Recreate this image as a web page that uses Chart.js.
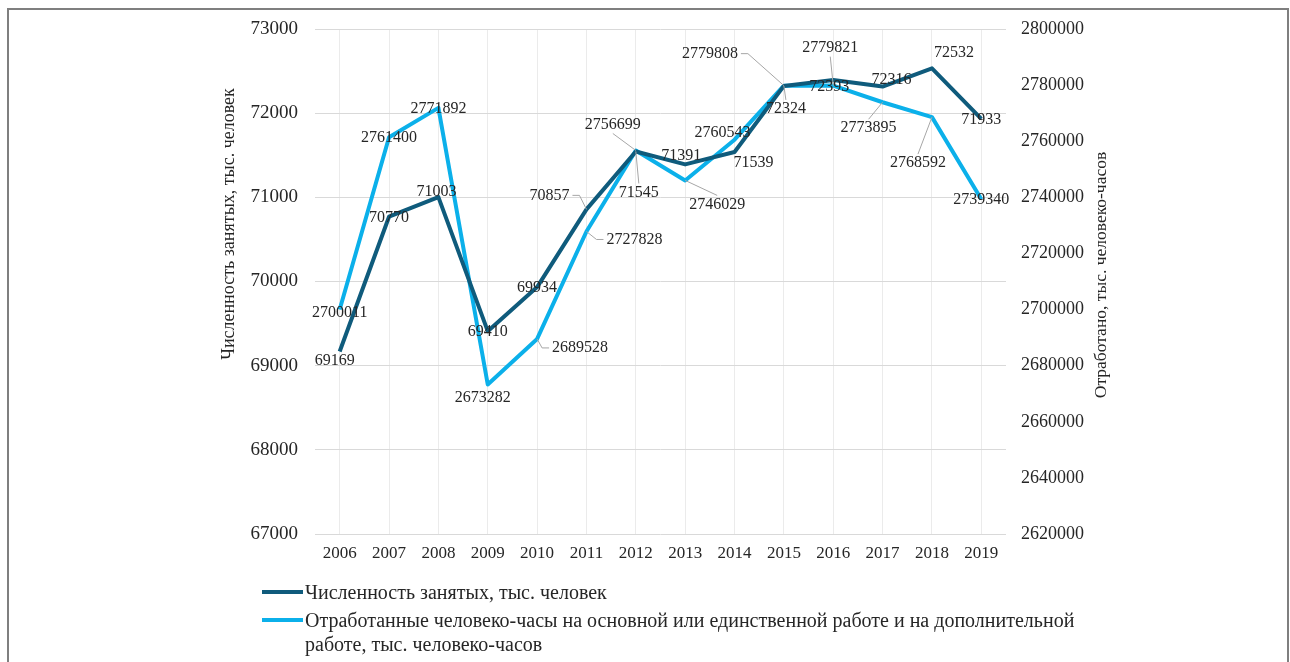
<!DOCTYPE html>
<html lang="ru">
<head>
<meta charset="utf-8">
<title>Численность занятых и отработанные человеко-часы</title>
<script src="https://cdn.jsdelivr.net/npm/chart.js@4"></script>
<style>
  html, body { margin: 0; padding: 0; background: #fff; }
  body { width: 1290px; height: 662px; overflow: hidden; position: relative; font-family: "Liberation Serif", "Times New Roman", serif; }
  .frame { position: absolute; left: 7px; top: 8px; width: 1282px; height: 720px; border: 2px solid #7f7f7f; box-sizing: border-box; }
  .wrap { position: absolute; left: 0; top: 0; width: 1290px; height: 662px; }
  .legend { position: absolute; left: 262px; top: 580px; color: #262626; font-size: 20px; }
  .legend-item { display: flex; align-items: flex-start; margin-bottom: 4px; }
  .legend-item .swatch { width: 41px; height: 4px; margin-top: 10px; flex: none; }
  .legend-item .text { width: 800px; line-height: 24px; padding-left: 2px; }
</style>
</head>
<body>
<div class="frame"></div>
<div class="wrap"><canvas id="myChart"></canvas></div>
<div class="legend" id="legend"></div>

<script>
const years = ["2006", "2007", "2008", "2009", "2010", "2011", "2012",
  "2013", "2014", "2015", "2016", "2017", "2018", "2019"];

// тыс. человек
const employed = [69169, 70770, 71003, 69410, 69934, 70857, 71545,
  71391, 71539, 72324, 72393, 72316, 72532, 71933];

// тыс. человеко-часов
const hoursWorked = [2700011, 2761400, 2771892, 2673282, 2689528, 2727828, 2756699,
  2746029, 2760543, 2779808, 2779821, 2773895, 2768592, 2739340];

const leftAxis = [67000, 73000, 1000];
const rightAxis = [2620000, 2800000, 20000];

const employedName = "Численность занятых, тыс. человек";
const hoursName = "Отработанные человеко-часы на основной или единственной работе и на дополнительной работе, тыс. человеко-часов";
const leftTitle = "Численность занятых, тыс. человек";
const rightTitle = "Отработано, тыс. человеко-часов";

// label offsets from the point: [dx, dy, leader] ("h" = elbow, "v" = straight)
const employedLabelPos = [
  [-5, 9, 0], [0, 1, 0], [-2, -5, 0], [0, 1, 0], [0, 1, 0], [-37, -14, "h"], [3, 41, "v"],
  [-4, -9, 0], [19, 11, 0], [2, 23, "v"], [-4, 7, 0], [9, -7, 0], [22, -16, 0], [0, 1, 0]
];
const hoursLabelPos = [
  [0, 3, 0], [0, 1, 0], [0, 1, 0], [-5, 13, 0], [43, 9, "h"], [48, 8, "h"], [-23, -26, "v"],
  [32, 24, "v"], [-12, -7, 0], [-74, -32, "h"], [-3, -38, "v"], [-14, 26, "v"], [-14, 46, "v"], [0, 1, 0]
];

const FONT = "'Liberation Serif', 'Times New Roman', serif";
const TEXT = "#262626";
const DARK = "#0f5b7c";
const LIGHT = "#0bb0ea";

// value labels with grey leader lines
const valueLabels = {
  id: "valueLabels",
  afterDatasetsDraw(chart) {
    const ctx = chart.ctx;
    const places = [employedLabelPos, hoursLabelPos];
    ctx.save();
    ctx.font = "16px " + FONT;
    ctx.textAlign = "center";
    ctx.textBaseline = "middle";
    chart.data.datasets.forEach((ds, d) => {
      const meta = chart.getDatasetMeta(d);
      meta.data.forEach((pt, i) => {
        const [dx, dy, leader] = places[d][i];
        const text = String(ds.data[i]);
        const cx = pt.x + dx;
        const cy = pt.y + dy;
        const w = ctx.measureText(text).width;
        if (leader) {
          ctx.strokeStyle = "#a6a6a6";
          ctx.lineWidth = 1;
          ctx.beginPath();
          if (leader === "h") {
            const side = pt.x > cx ? 1 : -1;
            const sx = cx + side * (w / 2 + 3);
            ctx.moveTo(sx, cy);
            ctx.lineTo(sx + side * 7, cy);
          } else {
            const side = pt.y > cy ? 1 : -1;
            ctx.moveTo(cx, cy + side * 9);
          }
          ctx.lineTo(pt.x, pt.y);
          ctx.stroke();
        }
        ctx.fillStyle = TEXT;
        ctx.fillText(text, cx, cy);
      });
    });
    ctx.restore();
  }
};

// both axis titles read bottom-to-top
const axisTitles = {
  id: "axisTitles",
  afterDraw(chart) {
    const ctx = chart.ctx;
    const y = chart.scales.y;
    const y1 = chart.scales.y1;
    const drawUp = (text, size, x, cy) => {
      ctx.save();
      ctx.translate(x, cy);
      ctx.rotate(-Math.PI / 2);
      ctx.font = size + "px " + FONT;
      ctx.fillStyle = TEXT;
      ctx.textAlign = "center";
      ctx.textBaseline = "middle";
      ctx.fillText(text, 0, 0);
      ctx.restore();
    };
    drawUp(leftTitle, 18, y.left + 29, 224);
    drawUp(rightTitle, 17.5, y1.left + 95, 275);
  }
};

const ctx = document.getElementById("myChart").getContext("2d");
const myChart = new Chart(ctx, {
  type: "line",
  data: {
    labels: years,
    datasets: [
      {
        label: employedName,
        data: employed,
        yAxisID: "y",
        borderColor: DARK,
        backgroundColor: DARK,
        borderWidth: 4,
        pointRadius: 0,
        tension: 0,
        borderJoinStyle: "round",
      },
      {
        label: hoursName,
        data: hoursWorked,
        yAxisID: "y1",
        borderColor: LIGHT,
        backgroundColor: LIGHT,
        borderWidth: 4,
        pointRadius: 0,
        tension: 0,
        borderJoinStyle: "round",
      },
    ],
  },
  options: {
    responsive: true,
    maintainAspectRatio: false,
    animation: false,
    layout: { padding: { left: 200, right: 180, top: 29, bottom: 88 } },
    plugins: {
      legend: { display: false },
      tooltip: { enabled: false },
    },
    scales: {
      x: {
        offset: true,
        grid: { color: "#ebebeb", drawTicks: false },
        border: { display: false },
        ticks: { color: TEXT, font: { family: FONT, size: 17 }, padding: 9, maxRotation: 0 },
        afterFit(s) { s.height = 40; },
      },
      y: {
        position: "left",
        min: leftAxis[0],
        max: leftAxis[1],
        grid: { color: "#d9d9d9", drawTicks: false },
        border: { display: false },
        ticks: {
          stepSize: leftAxis[2],
          color: TEXT,
          font: { family: FONT, size: 19 },
          padding: 17,
          callback: (v) => String(v),
        },
        afterFit(s) { s.width = 115; },
      },
      y1: {
        position: "right",
        min: rightAxis[0],
        max: rightAxis[1],
        grid: { display: false },
        border: { display: false },
        ticks: {
          stepSize: rightAxis[2],
          color: TEXT,
          font: { family: FONT, size: 18 },
          padding: 7,
          callback: (v) => String(v),
        },
        afterFit(s) { s.width = 104; },
      },
    },
  },
  plugins: [valueLabels, axisTitles],
});

// legend below the chart
const legendBox = document.getElementById("legend");
myChart.data.datasets.forEach((ds) => {
  const item = document.createElement("div");
  item.classList.add("legend-item");
  const swatch = document.createElement("span");
  swatch.classList.add("swatch");
  swatch.style.background = ds.borderColor;
  const label = document.createElement("span");
  label.classList.add("text");
  label.textContent = ds.label;
  item.appendChild(swatch);
  item.appendChild(label);
  legendBox.appendChild(item);
});
</script>
</body>
</html>
